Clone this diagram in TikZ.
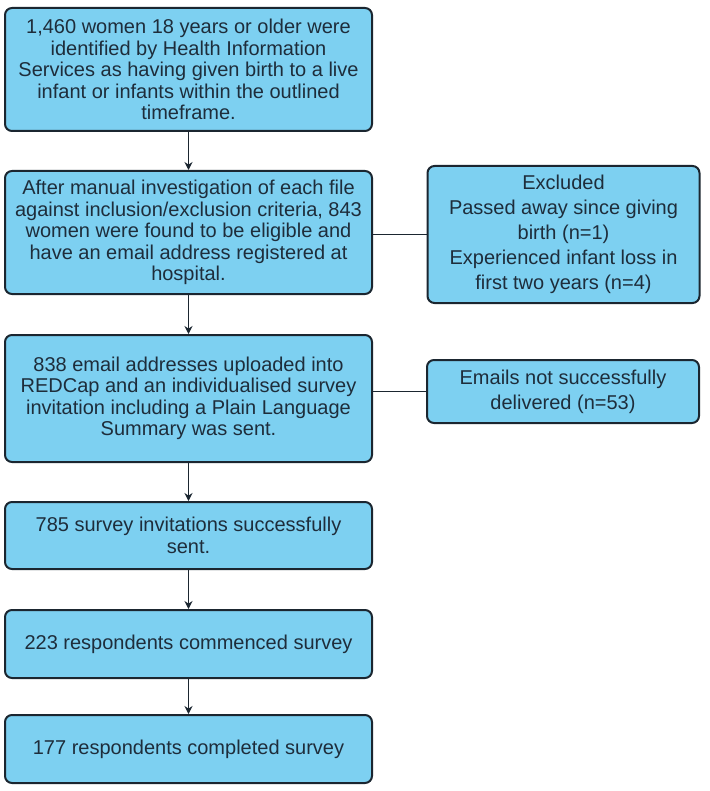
\documentclass[tikz,border=0pt]{standalone}
\usepackage{fontspec}
\setmainfont{Liberation Sans}
\usetikzlibrary{arrows.meta}
\definecolor{boxfill}{HTML}{7DD0F1}
\definecolor{boxline}{HTML}{1B2630}
\definecolor{txt}{HTML}{1E2D3B}
\tikzset{
  flowbox/.style={draw=boxline, fill=boxfill, line width=2pt, rounded corners=7pt,
    inner sep=0pt, align=center, text=txt,
    font=\fontsize{20}{21.5}\selectfont},
  mainbox/.style={flowbox, minimum width=367pt},
  sidebox/.style={flowbox, minimum width=272pt, font=\fontsize{20}{25}\selectfont},
  flowarrow/.style={line width=1.9pt, draw=boxline, -{Stealth[length=8pt,width=8pt]}},
  flowline/.style={line width=1.9pt, draw=boxline}
}
\begin{document}
\begin{tikzpicture}[x=1pt,y=-1pt]
\useasboundingbox (0,0) rectangle (709,791);
\node[mainbox, minimum height=123pt] (b1) at (188.5,69.5)
  {1,460 women 18 years or older were\\identified by Health Information\\Services as having given birth to a live\\infant or infants within the outlined\\timeframe.};
\node[mainbox, minimum height=123pt] (b2) at (188.5,232.5)
  {After manual investigation of each file\\against inclusion/exclusion criteria, 843\\women were found to be eligible and\\have an email address registered at\\hospital.};
\node[sidebox, minimum height=137pt] (e1) at (563.5,234.5)
  {Excluded\\Passed away since giving\\birth (n=1)\\Experienced infant loss in\\first two years (n=4)};
\node[mainbox, minimum height=127pt] (b3) at (188.5,398.5)
  {838 email addresses uploaded into\\REDCap and an individualised survey\\invitation including a Plain Language\\Summary was sent.};
\node[sidebox, minimum height=63pt] (e2) at (563,391.5)
  {Emails not successfully\\delivered (n=53)};
\node[mainbox, minimum height=67pt] (b4) at (188.5,535.5)
  {785 survey invitations successfully\\sent.};
\node[mainbox, minimum height=68pt] (b5) at (188.5,644)
  {223 respondents commenced survey};
\node[mainbox, minimum height=68pt] (b6) at (188.5,749)
  {177 respondents completed survey};
\draw[flowarrow] (b1) -- (b2);
\draw[flowarrow] (b2) -- (b3);
\draw[flowarrow] (b3) -- (b4);
\draw[flowarrow] (b4) -- (b5);
\draw[flowarrow] (b5) -- (b6);
\draw[flowline] (e1.west) -- (e1.west -| b2.east);
\draw[flowline] (e2.west) -- (e2.west -| b3.east);
\end{tikzpicture}
\end{document}
